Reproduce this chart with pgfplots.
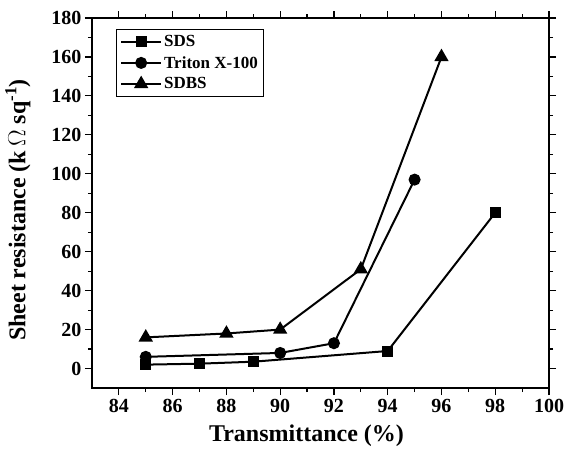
\documentclass[border=0pt]{standalone}
\usepackage{fontspec}
\setmainfont{Liberation Serif}
\usepackage{pgfplots}
\pgfplotsset{compat=1.18}
\begin{document}
\begin{tikzpicture}
\useasboundingbox (-92pt,-63pt) rectangle (476pt,388pt);
\begin{axis}[
  at={(0pt,0pt)}, anchor=south west,
  scale only axis,
  width=457pt, height=370pt,
  xmin=83, xmax=100, ymin=-10, ymax=180,
  xtick={84,86,...,100}, ytick={0,20,...,180},
  minor x tick num=1, minor y tick num=1,
  tick align=outside,
  major tick length=7pt, minor tick length=4pt,
  axis line style={line width=1.5pt},
  every tick/.style={line width=1.2pt, black},
  tick label style={font=\fontsize{20}{24}\selectfont\bfseries},
  xticklabel style={yshift=-1pt},
  /pgf/number format/assume math mode=true,
  xlabel={Transmittance (\%)},
  ylabel={Sheet resistance (k\,$\Omega$ sq\textsuperscript{-1})},
  label style={font=\fontsize{24}{28}\selectfont\bfseries},
  xlabel style={yshift=-5pt, xshift=-14pt},
  ylabel style={yshift=14pt, xshift=-7pt},
  legend style={at={(0.052,0.97)}, anchor=north west, draw=black, line width=0.8pt,
    font=\fontsize{17}{20}\selectfont\bfseries, row sep=4pt, inner xsep=4pt, inner ysep=4pt},
  legend cell align=left,
  legend image code/.code={\draw[mark repeat=2,mark phase=2] plot coordinates {(0pt,0pt)(20pt,0pt)(40pt,0pt)};},
  every axis plot/.append style={black, line width=2pt},
]
\addplot[mark=square*, mark size=4.5pt, mark options={solid}] coordinates {
  (85,2) (87,2.5) (89,3.5) (94,9) (98,80)};
\addlegendentry{SDS}
\addplot[mark=*, mark size=5pt] coordinates {
  (85,6) (90,8) (92,13) (95,97)};
\addlegendentry{Triton X-100}
\addplot[mark=triangle*, mark size=6.3pt] coordinates {
  (85,16) (88,18) (90,20) (93,51) (96,160)};
\addlegendentry{SDBS}
\end{axis}
\end{tikzpicture}
\end{document}
